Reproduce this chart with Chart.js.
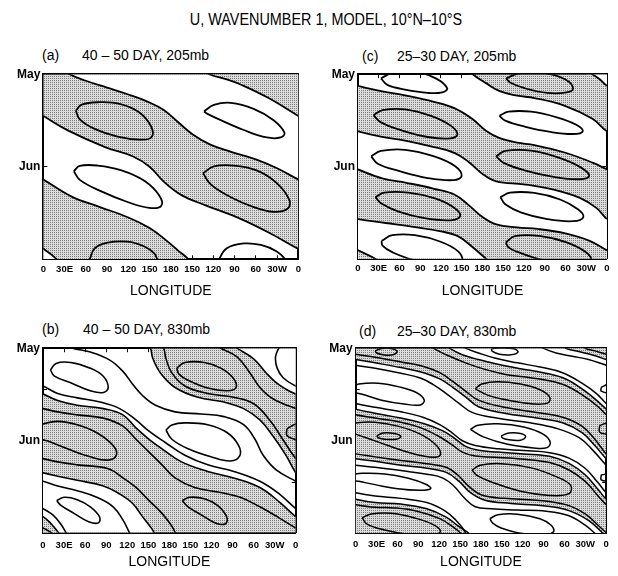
<!DOCTYPE html>
<html><head><meta charset="utf-8">
<script src="https://cdn.jsdelivr.net/npm/chart.js@4.4.1/dist/chart.umd.min.js"></script>
<style>
html,body{margin:0;padding:0;background:#fff;}
#wrap{position:relative;width:618px;height:576px;overflow:hidden;font-family:"Liberation Sans",Arial,Helvetica,sans-serif;color:#000;}
canvas{position:absolute;}
.t{position:absolute;white-space:nowrap;font-size:14px;line-height:16px;}
</style></head>
<body><div id="wrap">
<div class="t" style="left:17px;width:618px;text-align:center;top:12px;font-size:16px;transform:scaleX(0.9);">U, WAVENUMBER 1, MODEL, 10°N–10°S</div>
<div class="t" style="left:42px;top:47px;">(a)</div><div class="t" style="left:82px;top:47px;">40 – 50 DAY, 205mb</div>
<div class="t" style="left:362px;top:48px;">(c)</div><div class="t" style="left:397px;top:48px;">25–30 DAY, 205mb</div>
<div class="t" style="left:42px;top:321px;">(b)</div><div class="t" style="left:83px;top:321px;">40 – 50 DAY, 830mb</div>
<div class="t" style="left:359px;top:323px;">(d)</div><div class="t" style="left:397px;top:323px;">25–30 DAY, 830mb</div>
<canvas id="ca" width="309" height="245" style="left:0;top:60px"></canvas>
<canvas id="cc" width="309" height="245" style="left:309px;top:60px"></canvas>
<canvas id="cb" width="309" height="242" style="left:0;top:334px"></canvas>
<canvas id="cd" width="309" height="242" style="left:309px;top:334px"></canvas>
</div>
<script>
// ---------- axes ----------
const LON_TICKS = [0,30,60,90,120,150,180,210,240,270,300,330,360];
const LON_LABELS = ['0','30E','60','90','120','150','180','150','120','90','60','30W','0'];
const DAY_TICKS = [0,14,31,45];
const DAY_LABELS = ['May','','Jun',''];

// ---------- panel (a) 40-50 day, 205mb : [longitude, day after May 1] ----------
const aZeroE = [[30,-1.5],[37,0],[60,2.2],[90,4.5],[120,6.8],[150,9.5],[170,12],[190,16],[210,20],[235,23.5],[265,26],[300,28.5],[330,31.5],[360,35.3],[375,37]];
const aZeroE2 = [[-15,33.5],[0,35.3],[40,41],[80,44.5],[120,48],[150,51.5],[170,55],[190,59],[205,62],[212,64]];
const aZeroWtop = [[225,-1.5],[234,0],[262,2],[280,3.6],[318,8],[360,14],[375,16]];
const aZeroW = [[-15,12],[0,14],[36,19],[88,24.5],[126,27.5],[150,31],[170,36],[195,40.5],[230,44],[276,48.2],[318,53],[360,58.5],[375,60]];
const aZeroWbot = [[-15,56.5],[0,58.5],[19,62],[23,64]];
const aPos1 = [[45.9,12.2],[54.3,10.2],[76.7,9.4],[107.6,9.9],[135.6,12.8],[152.4,17.6],[152.4,21.2],[135.6,21.9],[104.8,20.9],[72.5,18.3],[51.5,15.1]];
const aNeg1 = [[226.8,12.5],[240.8,10.3],[264.6,9.6],[296.9,11.6],[325,15.4],[340.4,19.6],[335,21.2],[315.4,21.2],[283,18.7],[250.6,15.4],[231,13.2]];
const aNeg2 = [[43.1,32.5],[51.5,30.7],[76.7,30.6],[110.4,32.2],[142.6,35.7],[163.6,40.6],[166.4,44.1],[149.6,44.8],[118.8,42.8],[79.5,39],[51.5,35.4]];
const aPos2 = [[225.4,33.2],[240.8,30.9],[268.9,30.6],[301.1,32.2],[329.2,36.4],[347.4,42.2],[344.6,45.1],[325,46.1],[297,44.5],[264.7,41.2],[236.7,37]];
const aPos3 = [[62.7,64],[65.6,62],[72.6,58.3],[90.8,56.4],[118.8,56.1],[142.6,57.7],[156.6,60],[160.8,62],[163.6,64]];
const aNeg3 = [[245,64],[248,62],[259,58.3],[283,56.7],[307,57.2],[329,59.3],[341.6,62],[344,64]];

// ---------- panel (b) 40-50 day, 830mb ----------
const bZ1top = [[151,-0.9],[153.3,0],[156.5,3.5],[167.2,8.3],[188.1,13.2],[220.6,16.5],[257.8,18.1],[285.7,20.3],[308.9,24.1],[327.5,29.5],[346.1,36],[360,41.9],[369.3,44.1]];
const bZ1main = [[-11.6,41.2],[0,41.9],[20.9,43],[48.8,44.4],[85.9,46.3],[109.2,49],[127.7,52.2],[141.7,56.6],[155.6,60.9],[160.3,63.1]];
const bZbTop = [[271.7,-0.9],[276.4,0],[299.6,3.5],[318.2,8.4],[332.1,11.6],[346.1,13.8],[360,15.4],[369.3,15.9]];
const bZbMain = [[-11.6,14.6],[0,15.4],[20.9,17.6],[48.8,19.2],[85.9,20.3],[113.8,22.4],[132.4,26.8],[151,30.6],[169.5,33.8],[197.4,38.2],[234.6,41.4],[271.7,43.6],[308.9,46.8],[336.8,51.7],[360,56.6],[369.3,57.9]];
const bZbWrap = [[-11.6,55.5],[0,56.6],[10,58.6],[18,60.8],[24,62.5],[27,63.5]];
const bNegBtop = [[34.8,-0.9],[41.8,0],[67.4,1.3],[95.2,4],[113.8,7.8],[127.7,12.1],[141.7,15.9],[160.3,19.2],[188.1,21.4],[225.3,22.1],[257.8,23],[285.7,25.7],[301.9,30.6],[313.6,36],[332.1,40.9],[360,44.7],[369.3,45.7]];
const bNegBmain = [[-11.6,44.1],[0,44.7],[20.9,46.3],[48.8,47.9],[76.6,50.1],[99.9,53.3],[113.8,57.7],[123.1,62],[125.4,63.1]];
const bNegAtop = [[339.1,-0.9],[335.9,0],[331.2,2.9],[333.5,6.7],[342.4,10],[360,12.7],[369.3,13.4]];
const bNegAmain = [[-11.6,11.9],[0,12.7],[20.9,15.2],[48.8,16.7],[81.3,18.1],[109.2,20.3],[132.4,24.1],[151,27.9],[174.2,31.7],[202.1,36],[234.6,39.2],[271.7,41.4],[308.9,44.7],[336.8,49],[360,53.9],[369.3,55.3]];
const bNegAwrap = [[-11.6,52.8],[0,53.9],[14,56],[25,59],[33,62],[36,63.1]];
const bPosUtop = [[248.5,-0.9],[253.2,0],[276.4,2.9],[295,8.4],[308.9,13.2],[327.5,17],[360,20.3],[369.3,20.8]];
const bPosUmain = [[-11.6,19.7],[0,20.3],[20.9,21.4],[48.8,22.4],[85.9,23.5],[113.8,26.2],[132.4,30.6],[151,34.9],[169.5,39.2],[188.1,43.6],[216,46.8],[253.2,48.5],[281,50.1],[308.9,53.3],[336.8,57.1],[360,60.4],[369.3,61.5]];
const bPosUwrap = [[-11.6,59.8],[0,60.4],[11.6,62],[16.3,63.1]];
const bPosLtop = [[167.2,-0.9],[171.9,0],[175.1,3.5],[183.5,8.3],[202.1,12.7],[234.6,15.2],[271.7,16.5],[299.6,18.6],[322.8,24.1],[341.4,30.6],[360,37.1],[369.3,39.2]];
const bPosLmain = [[-11.6,36.2],[0,37.1],[20.9,38.2],[48.8,39.2],[92.9,40.5],[113.8,43.6],[132.4,46.8],[151,51.2],[169.5,55.5],[183.5,59.8],[190.5,63.1]];
const bNeg1 = [[10.7,7.3],[18.6,5.1],[39.5,4.8],[67.4,6.7],[85.9,9.4],[92.9,13.2],[85.9,14.9],[67.4,14.3],[39.5,11.6],[16.3,9.4]];
const bNeg2 = [[175.1,27.5],[183.5,25.8],[202.1,25.1],[234.6,25.7],[262.5,28.4],[278.7,32.7],[280.1,36.2],[267.1,37.9],[239.2,36.5],[206.7,33.8],[183.5,30.6]];
const bNeg3 = [[19.5,51.2],[30.2,50.1],[48.8,50.9],[67.4,53.3],[80.4,56.6],[79,58.7],[65,58.3],[44.1,55.5],[25.5,52.8]];
const bPos1 = [[190.5,6.7],[202.1,4.8],[229.9,4.8],[253.2,6.7],[270.8,10],[275,13.2],[262.5,14.3],[234.6,13.4],[206.7,10.8],[193.7,8.7]];
const bPos2 = [[-12.5,27.1],[0,25.5],[20.9,24.6],[48.8,25.7],[76.6,28.4],[99.9,32.7],[104.5,35.9],[92.9,37.6],[67.4,36.5],[34.8,33.8],[7,31.2],[0,30.8],[-12.5,29.3]];
const bPos3 = [[198.3,51.2],[209,50.1],[229.9,50.6],[248.5,52.8],[261.5,56.6],[260.1,59],[246.2,58.8],[225.3,56],[206.7,53.3]];

// ---------- panel (c) 25-30 day, 205mb ----------
const cZeroU0 = [[330,-1.3],[339,0],[350,1.8],[360,3.9],[375,5.5]];
const cZeroL0 = [[160,-2],[166,0],[185,3],[205,5.7],[230,7.2],[255,8],[300,10.7],[339,15],[360,19.2],[380,21.5]];
const cZeroU1 = [[-15,2.5],[0,3.9],[30,5.5],[70,7.2],[110,9.3],[140,11.5],[165,15],[185,19],[205,21.5],[230,23],[255,23.8],[300,26.4],[340,29.8],[360,32],[375,33.5]];
const cZeroL1 = [[-15,18],[0,19.2],[33,21],[68,22.3],[110,24.5],[140,26.5],[160,29.5],[180,33.5],[200,36],[240,37],[283,38.8],[320,41.5],[345,45],[360,48.7],[375,50.5]];
const cZeroU2 = [[-15,30.5],[0,32],[35,35],[70,36.5],[110,38.5],[140,40.5],[160,44],[180,48],[200,50.5],[230,51.5],[260,52],[300,53.5],[335,56],[360,59.2],[375,61]];
const cZeroL2 = [[-15,48],[0,48.7],[40,50],[80,51.3],[120,52.8],[145,54.5],[165,58],[185,62],[200,65]];
const cZeroU3 = [[-15,57.5],[0,59.2],[25,62],[30,63]];
const cNeg1 = [[33.2,1.4],[49.5,-0.4],[82.2,-0.9],[112.5,1.4],[128.9,4.7],[121.9,6.1],[100.9,6.3],[68.2,5.2],[42.5,3.6]];
const cPos1 = [[214.3,1.4],[231.6,-0.2],[268.9,-0.4],[299.3,1.7],[311,4.7],[301.6,6.1],[273.6,6.3],[240.9,4.7],[219.9,2.8]];
const cPos2 = [[22.4,13.8],[35.5,12.1],[68.2,11.8],[105.5,14],[133.5,17.2],[143.8,20.2],[133.5,21.6],[100.9,21.1],[63.5,18.9],[33.2,16.2]];
const cNeg2 = [[204.5,14],[217.6,12.6],[250.3,12.6],[287.6,14.5],[315.6,17],[325,19.2],[311,20.1],[278.3,19.4],[240.9,17.6],[212.9,15.6]];
const cNeg3 = [[19.1,27.6],[33.2,25.8],[68.2,25.4],[110.2,27.6],[140.5,30.9],[149.9,34.2],[138.2,35.6],[100.9,34.9],[58.8,32.5],[28.5,30.1]];
const cPos3 = [[199.8,27.6],[212.9,25.8],[250.3,25.7],[292.3,28.2],[322.6,31.4],[334.3,34.2],[320.3,35.3],[282.9,34.5],[240.9,32.3],[210.6,29.8]];
const cPos4 = [[25.2,41.3],[37.8,39.8],[72.8,39.8],[112.5,41.8],[140.5,45.1],[147.5,47.8],[133.5,49.1],[96.2,48.4],[58.8,46.2],[33.2,43.4]];
const cNeg4 = [[205.9,41.3],[219.9,39.8],[254.9,39.9],[292.3,42.1],[318,45.4],[325.9,48],[311,49.4],[273.6,48.7],[236.3,46.5],[212.9,43.7]];
const cNeg5 = [[34.1,56],[49.5,54.1],[82.2,54.1],[119.5,56.3],[145.2,59.6],[149.9,62.5],[128.9,63.6],[82.2,62.5],[49.5,59.8],[35.5,57.6]];
const cPos5 = [[213.8,56.5],[226.9,54.4],[264.3,54.4],[301.6,56.5],[329.6,59.8],[336.6,62.5],[315.6,63.6],[268.9,62.5],[231.6,59.8],[217.6,58.2]];

// ---------- panel (d) 25-30 day, 830mb ----------
const dZl0 = [[297.3,-1.1],[301.9,0],[320.5,1.1],[339.1,2.2],[360,3.8],[369.3,4.6]];
const dZl1 = [[-9.3,3.3],[0,3.8],[27.9,4.9],[65,6.5],[97.5,8.2],[120.8,10.3],[139.4,13.1],[157.9,16.3],[176.5,19.6],[213.7,21.8],[260.1,23.4],[297.3,25],[325.2,28.3],[343.7,32.6],[360,37],[369.3,38.6]];
const dZl2 = [[-9.3,36.4],[0,37],[27.9,37.9],[65,39.2],[102.2,40.2],[130.1,41.6],[148.6,44.6],[164.9,48.4],[185.8,50.9],[223,52],[269.4,52.8],[306.6,54.4],[334.5,57.7],[353,61.5],[360,63.3],[369.3,64.7]];
const dZu0 = [[130.1,-1.1],[134.7,0],[153.3,2.2],[176.5,3.8],[204.4,5.4],[236.9,6.9],[269.4,8.2],[301.9,10.3],[329.8,14.4],[348.4,17.9],[360,20.4],[369.3,22.3]];
const dZu1 = [[-9.3,19.6],[0,20.4],[27.9,21.8],[65,23.4],[97.5,25.2],[125.4,27.7],[144,30.5],[157.9,32.9],[176.5,34.2],[204.4,34.8],[241.6,35.4],[278.7,36.2],[306.6,38.6],[329.8,42.4],[348.4,47.3],[360,50.6],[369.3,52.2]];
const dZu2 = [[-9.3,49.8],[0,50.6],[27.9,51.7],[65,52.2],[102.2,53.8],[130.1,56.6],[148.6,59.8],[162.6,62],[167.2,63.6]];
const dCl0 = [[325.2,-1.1],[329.8,0],[343.7,0.9],[360,2],[369.3,2.4]];
const dCl1 = [[-9.3,1.5],[0,2],[27.9,3],[65,4.6],[97.5,6.1],[120.8,8.2],[139.4,11.1],[157.9,14.4],[176.5,17.4],[213.7,19.8],[260.1,21.5],[297.3,23.1],[325.2,26.1],[343.7,30.5],[360,35.4],[369.3,37]];
const dCl2 = [[-9.3,34.8],[0,35.4],[27.9,36.4],[65,37.6],[102.2,38.7],[130.1,39.9],[146.3,42.4],[162.6,46.3],[181.2,49.2],[213.7,50.3],[260.1,50.9],[301.9,52.4],[329.8,55.5],[350.7,59.8],[360,61.8],[369.3,63.6]];
const dCu0 = [[106.8,-1.1],[111.5,0],[130.1,2.2],[157.9,4.9],[185.8,7.1],[213.7,8.7],[241.6,9.6],[274.1,10.7],[301.9,12.5],[329.8,16.3],[348.4,19.6],[360,22.3],[369.3,23.9]];
const dCu1 = [[-9.3,21.5],[0,22.3],[27.9,23.4],[65,24.8],[92.9,26.6],[118.5,29.4],[137,32.1],[153.3,34.8],[171.9,36.1],[199.7,36.5],[236.9,37.1],[278.7,38.3],[306.6,40.8],[329.8,44.6],[348.4,49.5],[360,52.4],[369.3,53.8]];
const dCu2 = [[-9.3,51.8],[0,52.4],[27.9,53.3],[55.7,53.5],[88.3,54.6],[120.8,57.1],[139.4,59.8],[151,62],[155.6,63.6]];
const dMa0 = [[264.8,-1.1],[269.4,0],[288,1.6],[311.2,2.7],[334.5,3.8],[360,5.7],[369.3,6.3]];
const dMa1 = [[-9.3,5.2],[0,5.7],[27.9,6.7],[65,8.4],[92.9,10],[111.5,12.2],[130.1,15.2],[148.6,18.5],[167.2,21.5],[204.4,23.5],[250.8,25],[288,26.8],[320.5,29.9],[341.4,34.3],[360,39.2],[369.3,40.8]];
const dMa2 = [[-9.3,38.7],[0,39.2],[27.9,39.9],[65,41],[102.2,42.2],[125.4,43.5],[141.7,46.3],[155.6,50],[171.9,53.1],[195.1,53.8],[232.3,54.2],[274.1,54.6],[306.6,56.1],[329.8,59.3],[343.7,62],[350.7,63.6]];
const dMb0 = [[153.3,-1.1],[157.9,0],[176.5,1.6],[199.7,3.3],[232.3,4.9],[264.8,6.3],[297.3,8.2],[325.2,11.7],[346.1,15.2],[360,18.5],[369.3,20.1]];
const dMb1 = [[-9.3,17.7],[0,18.5],[27.9,19.8],[65,21.3],[97.5,23.2],[120.8,25.6],[139.4,28.5],[153.3,31],[171.9,32.6],[204.4,33.7],[241.6,34.3],[278.7,35],[306.6,36.8],[329.8,40.2],[348.4,45.1],[360,48.4],[369.3,50]];
const dMb2 = [[-9.3,47.6],[0,48.4],[27.9,49.5],[65,50.3],[102.2,51.7],[127.7,54.4],[144,57.6],[155.6,60.9],[160.3,63.6]];
const dP1 = [[27.9,0.9],[37.2,0.1],[51.1,0.1],[59.5,1.1],[53.4,2.2],[39.5,2.2],[30.2,1.6]];
const dN1 = [[195.1,0.2],[209,-0.1],[227.6,0.2],[233.2,1.3],[223,2.2],[206.7,2],[196.5,1.1]];
const dP2 = [[171.9,13.6],[181.2,12],[204.4,11.2],[236.9,12],[264.8,13.9],[278.7,16.3],[276.4,18.3],[255.5,18.7],[223,17.6],[190.5,15.8]];
const dN2 = [[-7,13.1],[4.6,12],[32.5,11.7],[65,13.1],[88.3,15],[98.5,17.4],[92.9,19],[69.7,18.7],[37.2,17.4],[9.3,15.4],[-7,14.4]];
const dP3 = [[-9.3,25.9],[2.3,25],[27.9,24.8],[60.4,26.1],[92.9,28.8],[116.1,32.6],[121.7,35.7],[111.5,36.5],[83.6,35.4],[46.5,32.6],[13.9,29.9],[0,28.8],[-9.3,28.1]];
const dP3in = [[30.2,29.4],[39.5,28.4],[55.7,28.6],[65,29.6],[58.1,30.5],[41.8,30.5],[32.5,30]];
const dN3 = [[164.9,27.2],[175.6,25.8],[204.4,25.3],[241.6,26.4],[269.4,28.8],[279.6,31.5],[275,33.3],[255.5,33.4],[218.3,32.2],[183.5,29.7]];
const dN3in = [[209,29.4],[220.6,28.4],[236.9,28.6],[244.3,29.7],[236.9,30.8],[220.6,30.7],[211.4,30.1]];
const dNa = [[-7,42.4],[9.3,41.9],[41.8,42.1],[74.3,43.5],[99.9,45.5],[107.8,47],[92.9,47.6],[60.4,47.1],[27.9,45.7],[4.6,44.6],[-7,44.1]];
const dP4 = [[167.2,40.8],[178.8,39.2],[209,38.7],[250.8,40],[288,43],[308.9,45.9],[306.6,48.7],[278.7,49.3],[236.9,47.9],[195.1,44.8],[174.2,42.6]];
const dN4 = [[192.8,57.1],[204.4,55.8],[232.3,55.6],[264.8,57.1],[281,59.3],[284.3,61.5],[269.4,62.6],[236.9,62],[209,60.2],[197.4,58.7]];
const dP5 = [[9.3,56.8],[22.3,55.5],[51.1,55.3],[83.6,56.8],[111.5,59.1],[121.7,61.5],[106.8,62.6],[74.3,62.3],[41.8,60.9],[16.3,58.9]];

// ---------- helpers ----------
const FONT = '"Liberation Sans", Arial, Helvetica, sans-serif';
function makePattern() {
  const c = document.createElement('canvas'); c.width = 2; c.height = 2;
  const g = c.getContext('2d');
  g.fillStyle = '#dcdcdc'; g.fillRect(0, 0, 2, 2);
  g.fillStyle = '#7c7c7c'; g.fillRect(0, 0, 1, 1);
  return g.createPattern(c, 'repeat');
}
const SH = makePattern();
const WH = '#ffffff';
const closed = p => p.concat([p[0]]);
const shift = (p, d) => p.map(q => [q[0] + d, q[1]]);

function mk(pts, lw, extra) {
  return Object.assign({
    data: pts.map(q => ({x: q[0], y: q[1]})),
    borderColor: '#000', borderWidth: lw, pointRadius: 0, pointHoverRadius: 0,
    tension: 0.4, fill: false, backgroundColor: 'rgba(0,0,0,0)'
  }, extra);
}

function panel(id, g, fills, lines, lw) {
  const ds = [];
  fills.forEach((f, i) => ds.push(mk(f[0], lw, {fill: f[1], backgroundColor: f[2], order: 100 - i})));
  lines.forEach(p => ds.push(mk(p, lw, {order: 0})));
  const grid = {drawOnChartArea: false, drawTicks: true, tickLength: -4, color: '#000', lineWidth: 1};
  const border = {display: true, color: '#000', width: 2};
  const lonTicks = s => { s.ticks = LON_TICKS.map(v => ({value: v})); };
  const dayTicks = s => { s.ticks = DAY_TICKS.map(v => ({value: v})); };
  new Chart(document.getElementById(id), {
    type: 'line',
    data: {datasets: ds},
    options: {
      responsive: false, animation: false, events: [],
      layout: {padding: 0, autoPadding: false},
      plugins: {legend: {display: false}, tooltip: {enabled: false}, title: {display: false},
                filler: {drawTime: 'beforeDatasetsDraw', propagate: false}},
      elements: {line: {capBezierPoints: false}, point: {radius: 0}},
      scales: {
        x: {type: 'linear', position: 'bottom', min: 0, max: 360, z: 1,
            afterBuildTicks: lonTicks, afterFit: s => { s.height = g.b; },
            ticks: {autoSkip: false, maxRotation: 0, minRotation: 0, padding: g.xp, color: '#000',
                    font: {family: FONT, size: 9.5, weight: 'bold'},
                    callback: (v, i) => LON_LABELS[i]},
            grid: grid, border: border,
            title: {display: true, text: 'LONGITUDE', color: '#000', font: {family: FONT, size: 14}, padding: {top: 0, bottom: 5}}},
        xTop: {type: 'linear', position: 'top', min: 0, max: 360, z: 1,
            afterBuildTicks: lonTicks, afterFit: s => { s.height = g.t; },
            ticks: {display: false}, grid: grid, border: border},
        y: {type: 'linear', position: 'left', min: 0, max: 62, reverse: true, z: 1,
            afterBuildTicks: dayTicks, afterFit: s => { s.width = g.l; },
            ticks: {padding: 7, color: '#000', font: {family: FONT, size: 12, weight: 'bold'},
                    callback: (v, i) => DAY_LABELS[i]},
            grid: grid, border: border},
        yRight: {type: 'linear', position: 'right', min: 0, max: 62, reverse: true, z: 1,
            afterBuildTicks: dayTicks, afterFit: s => { s.width = g.r; },
            ticks: {display: false}, grid: grid, border: border}
      }
    }
  });
}

// ---------- build panels ----------
panel('ca', {l: 43.3, r: 9, t: 7.3, b: 45.7, xp: 8},
  [[aZeroW, 'end', SH], [aZeroE, 'end', WH], [aZeroWtop, 'end', SH], [aZeroE2, 'start', SH], [aZeroWbot, 'start', WH]],
  [closed(aPos1), closed(aNeg1), closed(aNeg2), closed(aPos2), aPos3, aNeg3], 1.8);

panel('cc', {l: 49, r: 3.3, t: 9, b: 46.3, xp: 8.4},
  [[cZeroL0, 'end', SH], [cZeroU0, 'end', WH], [cZeroU1, 'start', SH], [cZeroL1, 'start', WH],
   [cZeroU2, 'start', SH], [cZeroL2, 'start', WH], [cZeroU3, 'start', SH]],
  [closed(cNeg1), closed(cPos1), closed(cPos2), closed(cNeg2), closed(cNeg3), closed(cPos3),
   closed(cPos4), closed(cNeg4), closed(cNeg5), closed(cPos5)], 1.8);

panel('cb', {l: 43, r: 7.7, t: 8, b: 43.3, xp: 10.6},
  [[bZ1top, 'end', SH], [bZbTop, 'end', WH], [bZbMain, 'start', SH], [bZ1main, 'start', WH], [bZbWrap, 'start', SH]],
  [bNegBtop, bNegBmain, bNegAtop, bNegAmain, bNegAwrap, bPosUtop, bPosUmain, bPosUwrap, bPosLtop, bPosLmain,
   closed(bNeg1), closed(bNeg2), closed(bNeg3), closed(bPos1), closed(bPos2), shift(closed(bPos2), 360), closed(bPos3)], 1.6);

panel('cd', {l: 46.7, r: 4, t: 9.3, b: 42.7, xp: 9.2},
  [[dZl1, 'end', SH], [dZu0, 'end', WH], [dZl0, 'end', SH], [dZu1, 'start', SH], [dZl2, 'start', WH], [dZu2, 'start', SH]],
  [dCl0, dCl1, dCl2, dCu0, dCu1, dCu2, dMa0, dMa1, dMa2, dMb0, dMb1, dMb2,
   closed(dP1), closed(dN1), closed(dP2), closed(dN2), shift(closed(dN2), 360), closed(dP3), shift(closed(dP3), 360),
   closed(dP3in), closed(dN3), closed(dN3in), closed(dNa), shift(closed(dNa), 360), closed(dP4), closed(dN4), closed(dP5)], 1.5);
</script>
</body></html>
